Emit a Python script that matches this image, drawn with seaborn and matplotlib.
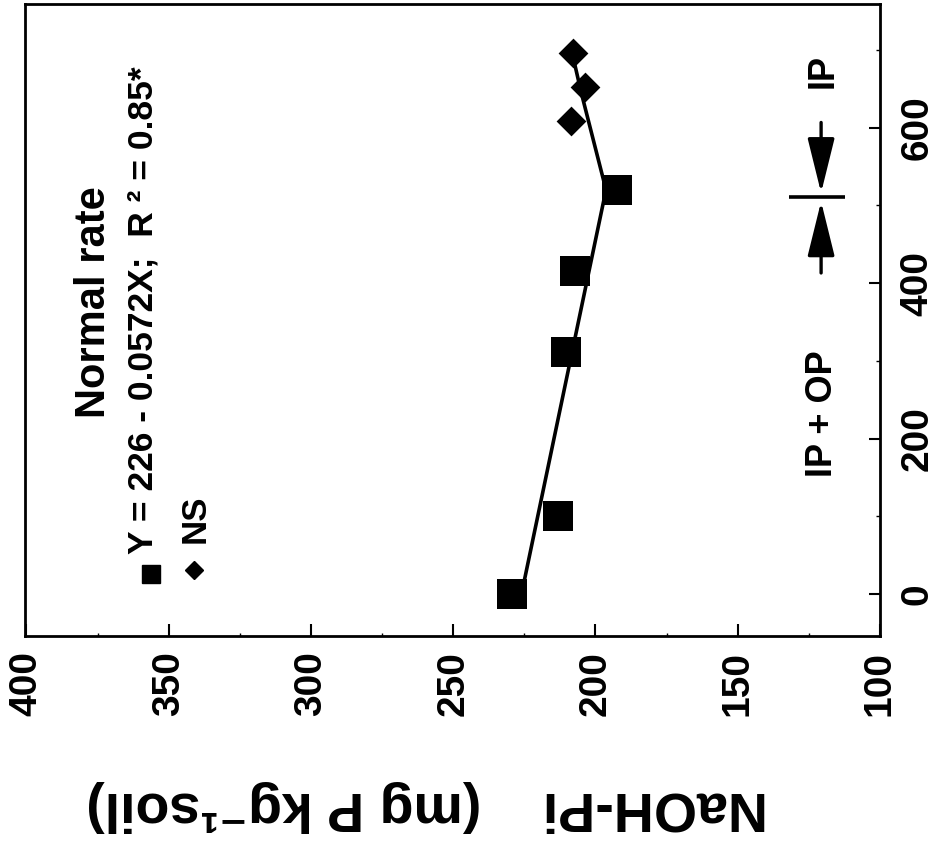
import matplotlib
matplotlib.use("Agg")
import matplotlib.pyplot as plt
import seaborn as sns

sns.set_style("ticks")
plt.rcParams['font.family'] = ['Liberation Sans', 'DejaVu Sans']
plt.rcParams['font.weight'] = 'bold'
plt.rcParams.update({'text.color': 'black', 'axes.edgecolor': 'black',
                     'xtick.color': 'black', 'ytick.color': 'black',
                     'axes.labelcolor': 'black'})

# ---- data ----
sq_dist = [0, 100, 311, 416, 520]                 # distance (image vertical axis)
sq_naoh = [229.5, 213.3, 210.4, 207.1, 192.5]     # NaOH-Pi, mg P/kg
dm_dist = [608, 652, 696]
dm_naoh = [208.6, 203.6, 208.0]
reg_dist = [0, 520]                               # Y = 226 - 0.0572X
reg_naoh = [226.0, 196.3]
ns_dist = [520, 645, 696]
ns_naoh = [196.3, 205.0, 208.2]

x_ticks = [400, 350, 300, 250, 200, 150, 100]
x_minor = [375, 325, 275, 225, 175, 125]
y_ticks = [0, 200, 400, 600]
y_minor = [100, 300, 500, 700]

fig = plt.figure(figsize=(9.35, 8.57), dpi=100)
ax = fig.add_axes([25 / 935, 1 - 636 / 857, 855 / 935, 632 / 857])

sns.lineplot(x=reg_naoh, y=reg_dist, sort=False, estimator=None, color='black',
             linewidth=2.6, ax=ax, zorder=2)
sns.lineplot(x=ns_naoh, y=ns_dist, sort=False, estimator=None, color='black',
             linewidth=2.6, ax=ax, zorder=2)
sns.scatterplot(x=sq_naoh, y=sq_dist, marker='s', s=467, color='black',
                linewidth=0, ax=ax, zorder=3)
sns.scatterplot(x=dm_naoh, y=dm_dist, marker='D', s=230, color='black',
                linewidth=0, ax=ax, zorder=3)

ax.set_xlim(400.5, 102.5)
ax.set_ylim(-54, 759)

ax.set_xticks(x_ticks)
ax.set_xticklabels([str(v) for v in x_ticks], rotation=90, fontsize=28, fontweight='bold')
ax.set_xticks(x_minor, minor=True)
ax.yaxis.tick_right()
ax.set_yticks(y_ticks)
ax.set_yticklabels([str(v) for v in y_ticks], rotation=90, va='center', fontsize=28,
                   fontweight='bold')
ax.set_yticks(y_minor, minor=True)
ax.tick_params(axis='x', which='major', direction='in', length=8.5, width=1.5, pad=11)
ax.tick_params(axis='x', which='minor', direction='in', length=2.5, width=1.0)
ax.tick_params(axis='y', which='major', direction='in', length=8, width=1.5, pad=14,
               left=False, right=True)
ax.tick_params(axis='y', which='minor', direction='in', length=3, width=1.0,
               left=False, right=True)
for s in ax.spines.values():
    s.set_linewidth(2.0)
    s.set_color('black')
    s.set_visible(True)
ax.set_xlabel('')
ax.set_ylabel('')

# rotated legend
ax.plot([0.147], [0.0976], marker='s', ms=13, color='black', transform=ax.transAxes,
        clip_on=False, linestyle='none')
ax.plot([0.1977], [0.1044], marker='D', ms=9.2, color='black', transform=ax.transAxes,
        clip_on=False, linestyle='none')
ax.text(0.0936, 0.3449, 'Normal rate', transform=ax.transAxes, rotation=90,
        rotation_mode='anchor', ha='left', va='baseline', fontsize=30, fontweight='bold')
ax.text(0.1497, 0.1297, 'Y = 226 - 0.0572X;  R \u00b2 = 0.85*', transform=ax.transAxes,
        rotation=90, rotation_mode='anchor', ha='left', va='baseline', fontsize=25.5,
        fontweight='bold')
ax.text(0.2105, 0.1472, 'NS', transform=ax.transAxes, rotation=90,
        rotation_mode='anchor', ha='left', va='baseline', fontsize=25, fontweight='bold')

# boundary annotation
ax.text(0.9439, 0.2516, 'IP + OP', transform=ax.transAxes, rotation=90,
        rotation_mode='anchor', ha='left', va='baseline', fontsize=26, fontweight='bold')
ax.text(0.9450, 0.8671, 'IP', transform=ax.transAxes, rotation=90,
        rotation_mode='anchor', ha='left', va='baseline', fontsize=26, fontweight='bold')
arrow_style = dict(arrowstyle='-|>,head_length=1.7,head_width=0.42', lw=2.4,
                   color='black', shrinkA=0, shrinkB=0, mutation_scale=20)
ax.annotate('', xy=(120.7, 516), xytext=(120.7, 606.6), arrowprops=arrow_style)
ax.annotate('', xy=(120.7, 505), xytext=(120.7, 413), arrowprops=arrow_style)
ax.plot([132.1, 112.4], [510.5, 510.5], lw=2.6, color='black', solid_capstyle='butt')

fig.text(427 / 935, 1 - 792 / 857, 'NaOH-Pi    (mg P kg\u207b\u00b9soil)', rotation=180,
         rotation_mode='anchor', ha='center', va='baseline', fontsize=40,
         fontweight='bold', color='black')

fig.savefig('out.png', dpi=100)
